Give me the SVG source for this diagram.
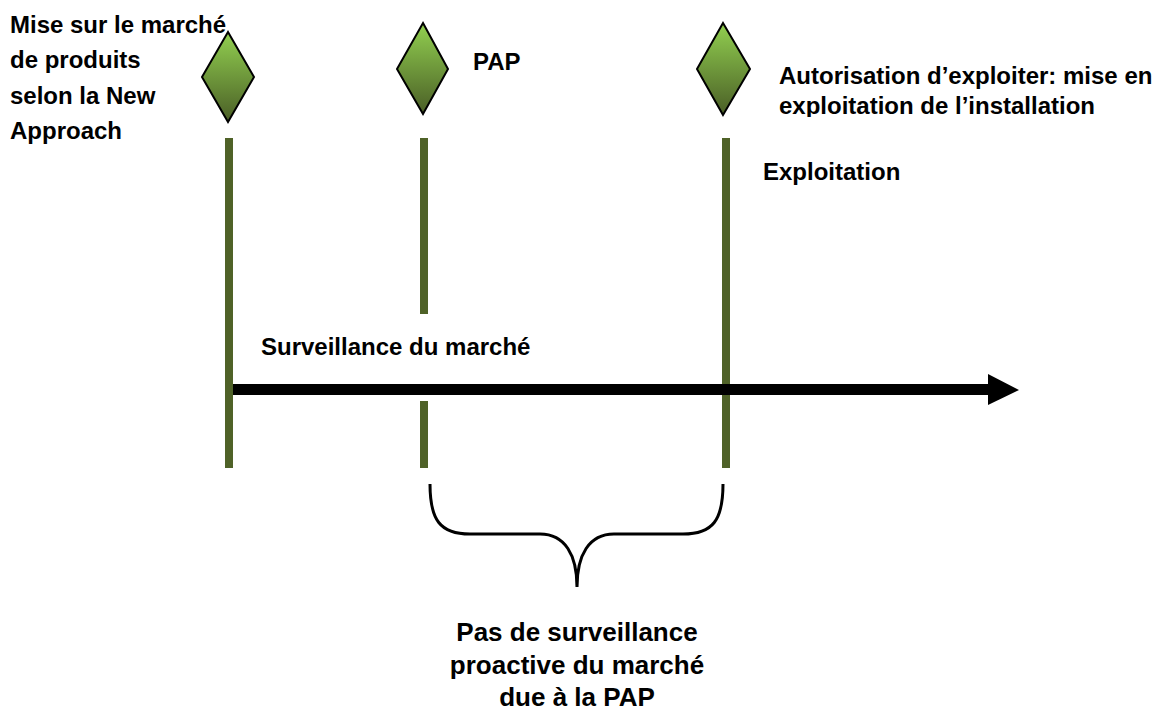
<svg xmlns="http://www.w3.org/2000/svg" width="1155" height="713" viewBox="0 0 1155 713">
<defs>
<linearGradient id="g" x1="0" y1="0" x2="0" y2="1">
<stop offset="0" stop-color="#92d050"/>
<stop offset="1" stop-color="#4a5e26"/>
</linearGradient>
<clipPath id="clipA"><rect x="760" y="40" width="395" height="77"/></clipPath>
<style>
.t{font-family:"Liberation Sans",Arial,sans-serif;font-weight:bold;font-size:24px;fill:#000}
.b{font-size:26px}
.d{fill:url(#g);stroke:#000;stroke-width:2;stroke-linejoin:miter}
.v{fill:#4f6228}
</style>
</defs>
<rect width="1155" height="713" fill="#fff"/>
<g id="connectors">
<rect class="v" x="225" y="138" width="8" height="330"/>
<rect class="v" x="420" y="138" width="8" height="176"/>
<rect class="v" x="420" y="401" width="8" height="67"/>
<rect class="v" x="722" y="138" width="8" height="330"/>
<rect x="233" y="384" width="756" height="11" fill="#000"/>
<polygon points="988,374 1019,390 988,405" fill="#000"/>
<path d="M430 484 C430 520 440 534 470 534 L540 534 C565 534 577 555 577 587 C577 555 589 534 614 534 L683 534 C713 534 723 520 723 484" fill="none" stroke="#000" stroke-width="3"/>
</g>
<g id="node1">
<text class="t" x="10" y="33">Mise sur le marché</text>
<text class="t" x="10" y="68">de produits</text>
<text class="t" x="10" y="104">selon la New</text>
<text class="t" x="10" y="139">Approach</text>
<polygon class="d" points="228,32 254,77 228,122 202,77"/>
</g>
<g id="node2">
<polygon class="d" points="423,23 448,69 423,114 397,69"/>
<text class="t" x="473" y="70">PAP</text>
</g>
<g id="node3">
<polygon class="d" points="723,23 750,69 723,115 697,69"/>
<g clip-path="url(#clipA)">
<text class="t" x="779" y="84">Autorisation d’exploiter: mise en</text>
<text class="t" x="779" y="114">exploitation de l’installation</text>
</g>
</g>
<g id="node4">
<text class="t" x="763" y="180">Exploitation</text>
</g>
<g id="node5">
<text class="t" x="261" y="355">Surveillance du marché</text>
</g>
<g id="node6">
<text class="t b" x="577" y="641" text-anchor="middle">Pas de surveillance</text>
<text class="t b" x="577" y="674" text-anchor="middle">proactive du marché</text>
<text class="t b" x="577" y="706" text-anchor="middle">due à la PAP</text>
</g>
</svg>
